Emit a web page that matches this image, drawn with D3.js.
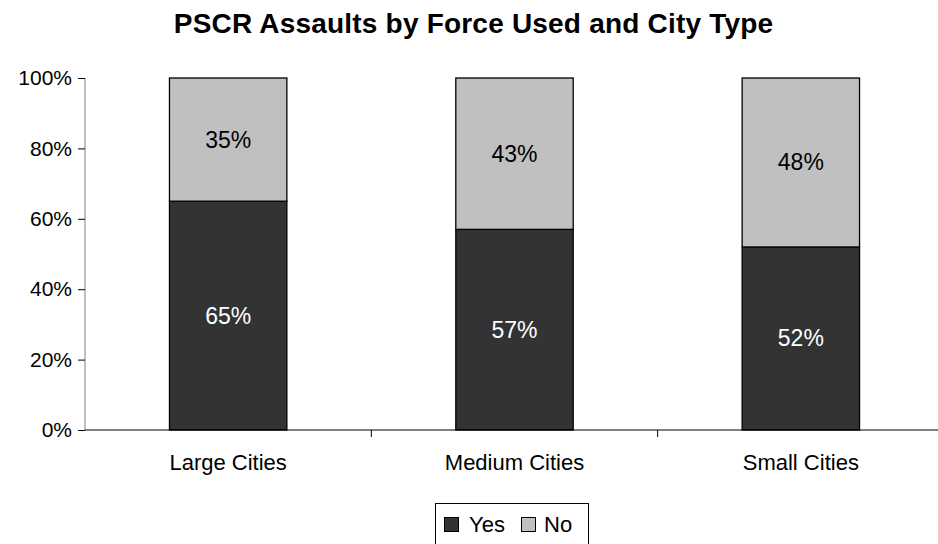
<!DOCTYPE html>
<html><head><meta charset="utf-8">
<script src="https://cdn.jsdelivr.net/npm/d3@7"></script>
<style>body{margin:0;background:#fff}svg{display:block;font-family:"Liberation Sans",Arial,sans-serif}</style>
</head><body><svg id="c" width="938" height="544"></svg>
<script>
const categories = ["Large Cities", "Medium Cities", "Small Cities"];
const yesValues = [65, 57, 52];
const noValues = [35, 43, 48];
const seriesNames = ["Yes", "No"];
const yTicks = [0, 20, 40, 60, 80, 100];
const title = "PSCR Assaults by Force Used and City Type";

const colors = {Yes: "#333333", No: "#c0c0c0"};
const svg = d3.select("#c");
const pLeft = 85, pRight = 944, pTop = 78, pBottom = 430;

const x = d3.scaleBand().domain(categories).range([pLeft, pRight]).paddingInner(0.59).paddingOuter(0.295);
const y = d3.scaleLinear().domain([0, 100]).range([pBottom, pTop]);

svg.append("text").attr("x", 473.5).attr("y", 33).attr("text-anchor", "middle")
  .attr("font-size", 28).attr("font-weight", "bold").attr("letter-spacing", 0.2).text(title);

const rows = categories.map((c, i) => ({cat: c, Yes: yesValues[i], No: noValues[i]}));
const stacked = d3.stack().keys(seriesNames)(rows);

stacked.forEach(s => {
  const g = svg.append("g");
  g.selectAll("rect").data(s).join("rect")
    .attr("x", d => x(d.data.cat)).attr("width", x.bandwidth())
    .attr("y", d => y(d[1])).attr("height", d => y(d[0]) - y(d[1]))
    .attr("fill", colors[s.key]).attr("stroke", "#000").attr("stroke-width", 1.3);
  g.selectAll("text").data(s).join("text")
    .attr("x", d => x(d.data.cat) + x.bandwidth() / 2)
    .attr("y", d => (y(d[0]) + y(d[1])) / 2 + 8)
    .attr("text-anchor", "middle").attr("font-size", 23)
    .attr("fill", s.key === "Yes" ? "#fff" : "#000")
    .text(d => (d[1] - d[0]) + "%");
});

// y axis
const ya = svg.append("g").attr("transform", `translate(${pLeft},0)`)
  .call(d3.axisLeft(y).tickValues(yTicks).tickSize(7).tickPadding(6).tickFormat(d => d + "%"));
ya.select(".domain").attr("stroke", "#808080").attr("d", `M0,${pTop}H0V${pBottom}`);
ya.selectAll(".tick line").attr("stroke", "#000");
ya.selectAll("text").attr("font-size", 21).attr("font-family", "Liberation Sans, Arial, sans-serif").attr("fill", "#000");

// x axis
const boundaries = [categories[1], categories[2]].map(c => x(c) - x.step() * x.paddingInner() / 2);
const xa = svg.append("g").attr("transform", `translate(0,${pBottom})`);
xa.append("line").attr("x1", pLeft).attr("x2", pRight).attr("stroke", "#000").attr("stroke-width", 1);
xa.selectAll("line.tk").data(boundaries).join("line").attr("class", "tk")
  .attr("x1", d => d).attr("x2", d => d).attr("y1", 0).attr("y2", 7).attr("stroke", "#000");
xa.selectAll("text").data(categories).join("text")
  .attr("x", d => x(d) + x.bandwidth() / 2).attr("y", 40)
  .attr("text-anchor", "middle").attr("font-size", 22).text(d => d);

// legend
const lg = svg.append("g");
lg.append("rect").attr("x", 435.5).attr("y", 503.5).attr("width", 153).attr("height", 50)
  .attr("fill", "#fff").attr("stroke", "#000");
const items = [{k: "Yes", x: 444, tx: 469}, {k: "No", x: 521, tx: 544}];
items.forEach(it => {
  lg.append("rect").attr("x", it.x + 0.5).attr("y", 517.5).attr("width", 14).attr("height", 14)
    .attr("fill", colors[it.k]).attr("stroke", "#000");
  lg.append("text").attr("x", it.tx).attr("y", 532).attr("font-size", 22).text(it.k);
});
</script></body></html>
